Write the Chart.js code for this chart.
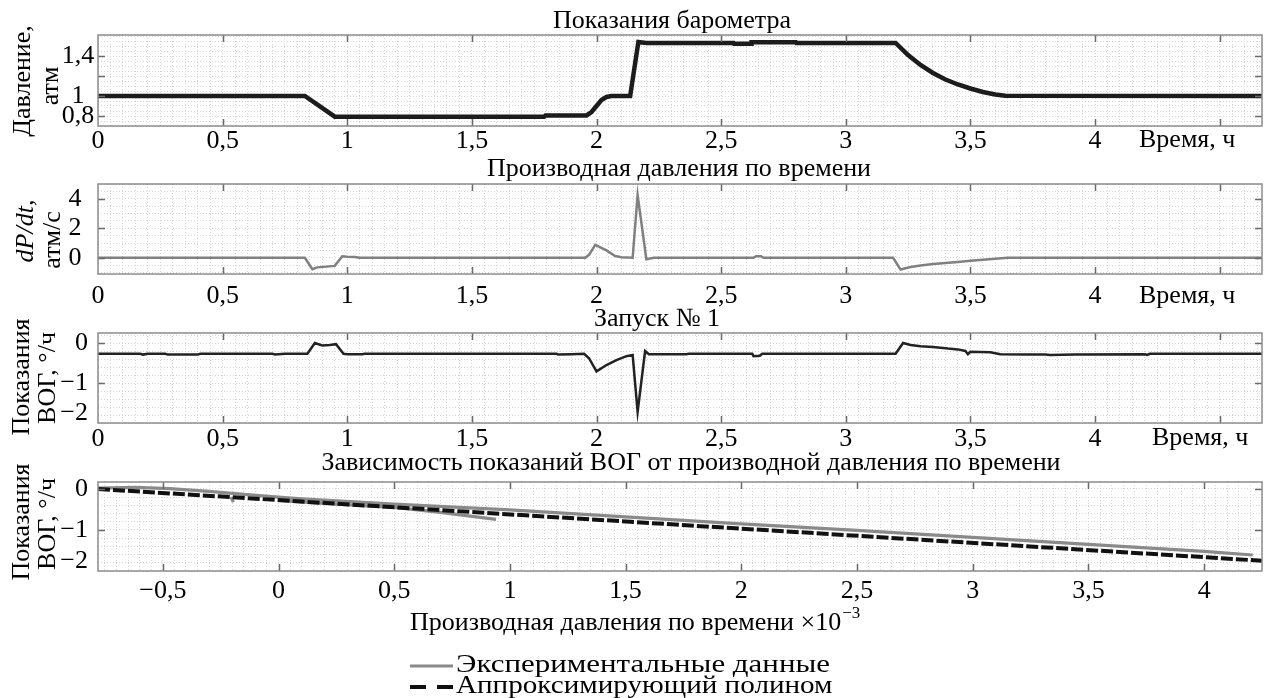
<!DOCTYPE html>
<html><head><meta charset="utf-8">
<script src="https://cdn.jsdelivr.net/npm/chart.js@4/dist/chart.umd.min.js"></script>
<style>
html,body{margin:0;padding:0;background:#fff;}
#wrap{position:relative;width:1268px;height:698px;overflow:hidden;background:#fff;}
canvas{position:absolute;left:0;top:0;}
</style></head><body>
<div id="wrap">
<canvas id="c1" width="1268" height="698"></canvas>
<canvas id="c2" width="1268" height="698"></canvas>
<canvas id="c3" width="1268" height="698"></canvas>
<canvas id="c4" width="1268" height="698"></canvas>
</div>
<script>
// ---------- DATA ----------
const baroTime     = [0, 0.83, 0.95, 1.79, 1.795, 1.96, 1.98, 2.0, 2.02, 2.04, 2.06, 2.135, 2.168, 2.2, 2.55, 2.552, 2.62, 2.622, 2.8, 2.802, 3.2, 3.25, 3.3, 3.35, 3.4, 3.45, 3.5, 3.55, 3.6, 3.64, 4.67];
const baroPressure = [1.0, 1.0, 0.793, 0.793, 0.806, 0.806, 0.84, 0.9, 0.96, 0.99, 1.0, 1.0, 1.54, 1.53, 1.53, 1.522, 1.522, 1.537, 1.537, 1.53, 1.53, 1.41, 1.31, 1.23, 1.165, 1.115, 1.075, 1.04, 1.015, 1.002, 1.0];

const dpdtTime  = [0, 0.83, 0.86, 0.88, 0.95, 0.98, 1.0, 1.03, 1.05, 1.955, 1.97, 1.995, 2.04, 2.075, 2.1, 2.145, 2.165, 2.2, 2.23, 2.63, 2.64, 2.66, 2.67, 3.19, 3.22, 3.26, 3.3, 3.35, 3.4, 3.45, 3.5, 3.55, 3.6, 3.65, 4.67];
const dpdtValue = [0, 0, -0.78, -0.65, -0.55, 0.1, 0.07, 0.05, 0, 0, 0.2, 0.88, 0.5, 0.12, 0.03, 0.0, 4.25, -0.1, 0, 0, 0.1, 0.1, 0, 0, -0.8, -0.62, -0.52, -0.43, -0.35, -0.28, -0.21, -0.14, -0.07, 0, 0];

const gyroTime  = [0, 0.17, 0.18, 0.2, 0.27, 0.28, 0.4, 0.41, 0.7, 0.71, 0.75, 0.84, 0.87, 0.9, 0.93, 0.955, 0.985, 1.0, 1.06, 1.07, 1.84, 1.845, 1.9, 1.95, 1.97, 2.0, 2.04, 2.08, 2.12, 2.145, 2.165, 2.195, 2.21, 2.36, 2.37, 2.625, 2.63, 2.655, 2.665, 3.2, 3.23, 3.26, 3.3, 3.35, 3.41, 3.45, 3.48, 3.49, 3.5, 3.58, 3.62, 3.73, 3.8, 3.82, 3.92, 4.2, 4.21, 4.22, 4.67];
const gyroValue = [-0.27, -0.27, -0.29, -0.27, -0.27, -0.29, -0.29, -0.27, -0.27, -0.285, -0.27, -0.27, 0.0, -0.06, -0.05, -0.03, -0.27, -0.28, -0.28, -0.27, -0.27, -0.29, -0.28, -0.27, -0.38, -0.71, -0.55, -0.43, -0.33, -0.3, -1.72, -0.2, -0.28, -0.28, -0.27, -0.27, -0.33, -0.32, -0.27, -0.27, 0.0, -0.05, -0.08, -0.1, -0.14, -0.16, -0.2, -0.28, -0.22, -0.23, -0.28, -0.29, -0.29, -0.3, -0.29, -0.28, -0.3, -0.27, -0.27];

const expUpperX = [-0.78, -0.62, -0.47, -0.3, -0.15, 0.0, 0.1, 0.5, 1.0, 1.5, 2.0, 2.5, 3.0, 3.5, 4.0, 4.21];
const expUpperY = [0.02, 0.04, 0.01, -0.06, -0.13, -0.2, -0.24, -0.37, -0.51, -0.68, -0.85, -1.01, -1.18, -1.35, -1.52, -1.61];
const expLowerX = [0.0, 0.25, 0.5, 0.7, 0.94];
const expLowerY = [-0.28, -0.37, -0.45, -0.57, -0.74];
const expBlobX  = [-0.205, -0.195];
const expBlobY  = [-0.2, -0.32];
const fitX = [-0.78, 4.25];
const fitY = [0.0, -1.75];

// tick labels
const timeTicks      = [0, 0.5, 1, 1.5, 2, 2.5, 3, 3.5, 4];
const timeTickLabels = ['0', '0,5', '1', '1,5', '2', '2,5', '3', '3,5', '4'];
const timeMajor      = [0, 0.5, 1, 1.5, 2, 2.5, 3, 3.5, 4, 4.5];
const dpTicks        = [-0.5, 0, 0.5, 1, 1.5, 2, 2.5, 3, 3.5, 4];
const dpTickLabels   = ['\u22120,5', '0', '0,5', '1', '1,5', '2', '2,5', '3', '3,5', '4'];
const baroYTicks = [0.8, 1, 1.4],  baroYLabels = ['0,8', '1', '1,4'], baroYMajor = [0.8, 1, 1.2, 1.4];
const dpdtYTicks = [0, 2, 4],      dpdtYLabels = ['0', '2', '4'];
const gyroYTicks = [0, -1, -2],    gyroYLabels = ['0', '\u22121', '\u22122'];

// ---------- HELPERS ----------
const FONT = '"Liberation Serif","Times New Roman",serif';
const FS = 26;
const GRID = '#d6d6d6';
const pts = (xs, ys) => xs.map((x, i) => ({x: x, y: ys[i]}));
function stepsBetween(min, max, step) {
  const out = [];
  for (let k = Math.ceil(min / step - 1e-9); k * step <= max + 1e-9; k++) out.push(Math.round(k * step * 1e6) / 1e6);
  return out;
}
function labelFor(v, vals, labels) {
  const i = vals.findIndex(t => Math.abs(t - v) < 1e-6);
  return i >= 0 ? labels[i] : '';
}
function drawText(ctx, t) {
  ctx.save();
  ctx.font = (t.italic ? 'italic ' : '') + (t.size || FS) + 'px ' + FONT;
  ctx.fillStyle = '#000';
  ctx.textAlign = t.align || 'center';
  ctx.textBaseline = 'middle';
  ctx.translate(t.x, t.y);
  if (t.rot) ctx.rotate(-Math.PI / 2);
  if (t.sx) ctx.scale(t.sx, 1);
  ctx.fillText(t.text, 0, 0);
  ctx.restore();
}
function deco(p) {
  return {
    id: 'deco' + p.id,
    afterDatasetsDraw(chart) {
      const ctx = chart.ctx, a = chart.chartArea, xs = chart.scales.x, ys = chart.scales.y;
      ctx.save();
      ctx.strokeStyle = '#6a6a6a'; ctx.lineWidth = 1.5;
      ctx.beginPath();
      p.xMajor.forEach(v => {
        const px = Math.round(xs.getPixelForValue(v)) + 0.5;
        if (px <= a.left + 1 || px >= a.right - 1) return;
        ctx.moveTo(px, a.top); ctx.lineTo(px, a.top + 7);
        ctx.moveTo(px, a.bottom); ctx.lineTo(px, a.bottom - 7);
      });
      p.yMajor.forEach(v => {
        const py = Math.round(ys.getPixelForValue(v)) + 0.5;
        if (py <= a.top + 1 || py >= a.bottom - 1) return;
        ctx.moveTo(a.left, py); ctx.lineTo(a.left + 7, py);
        ctx.moveTo(a.right, py); ctx.lineTo(a.right - 7, py);
      });
      ctx.stroke();
      ctx.strokeStyle = '#8c8c8c'; ctx.lineWidth = 1.5;
      ctx.strokeRect(a.left, a.top, a.right - a.left, a.bottom - a.top);
      ctx.restore();
    },
    afterDraw(chart) {
      const ctx = chart.ctx, a = chart.chartArea, ys = chart.scales.y;
      p.yTickVals.forEach((v, i) => {
        let py = ys.getPixelForValue(v);
        py = Math.min(py, a.bottom - 10);
        drawText(ctx, {text: p.yTickLabels[i], x: p.yLabX, y: py, align: p.yLabAlign});
      });
      p.texts.forEach(t => drawText(ctx, t));
      if (p.extra) p.extra(ctx);
    }
  };
}
function makeChart(p) {
  new Chart(document.getElementById(p.id), {
    type: 'scatter',
    data: { datasets: p.datasets },
    options: {
      responsive: false, animation: false, devicePixelRatio: 1,
      layout: { padding: { left: 0, right: 1268 - p.right, top: p.top, bottom: 698 - p.bottom - 40 } },
      plugins: { legend: {display: false}, tooltip: {enabled: false}, title: {display: false} },
      elements: { point: { radius: 0, hoverRadius: 0 }, line: { tension: 0 } },
      scales: {
        x: {
          type: 'linear', min: p.xMin, max: p.xMax,
          afterFit: s => { s.height = 40; },
          afterBuildTicks: s => { s.ticks = stepsBetween(p.xMin, p.xMax, p.xMinor).map(v => ({value: v})); },
          grid: { color: GRID, lineWidth: 1, drawTicks: false },
          border: { display: false, dash: [1, 2] },
          ticks: { autoSkip: false, maxRotation: 0, minRotation: 0, padding: p.xPad, color: '#000',
                   font: {family: FONT, size: FS},
                   callback: v => labelFor(v, p.xTickVals, p.xTickLabels) }
        },
        y: {
          type: 'linear', min: p.yMin, max: p.yMax,
          afterFit: s => { s.width = p.left; },
          afterBuildTicks: s => { s.ticks = stepsBetween(p.yMin, p.yMax, p.yMinor).map(v => ({value: v})); },
          grid: { color: GRID, lineWidth: 1, drawTicks: false },
          border: { display: false, dash: [1, 2] },
          ticks: { display: false }
        }
      }
    },
    plugins: [deco(p)]
  });
}
const line = (data, color, width, extra) => Object.assign({ data: data, showLine: true, borderColor: color, backgroundColor: color, borderWidth: width, pointRadius: 0, fill: false }, extra || {});

// ---------- PANEL 1 ----------
makeChart({
  id: 'c1', left: 98, right: 1262, top: 35, bottom: 126,
  xMin: 0, xMax: 4.67, xMinor: 0.05, xMajor: timeMajor, xTickVals: timeTicks, xTickLabels: timeTickLabels, xPad: 0,
  yMin: 0.7, yMax: 1.61, yMinor: 0.05, yMajor: baroYMajor, yTickVals: baroYTicks, yTickLabels: baroYLabels, yLabX: 78, yLabAlign: 'center',
  datasets: [ line(pts(baroTime, baroPressure), '#1c1c1c', 4.5) ],
  texts: [
    {text: 'Показания барометра', x: 672, y: 21},
    {text: 'Давление,', x: 23, y: 81, rot: true},
    {text: 'атм', x: 51, y: 86, rot: true},
    {text: 'Время, ч', x: 1139, y: 140, align: 'left'}
  ]
});
// ---------- PANEL 2 ----------
makeChart({
  id: 'c2', left: 98, right: 1262, top: 184, bottom: 274,
  xMin: 0, xMax: 4.67, xMinor: 0.05, xMajor: timeMajor, xTickVals: timeTicks, xTickLabels: timeTickLabels, xPad: 7,
  yMin: -1.1, yMax: 5, yMinor: 0.5, yMajor: dpdtYTicks, yTickVals: dpdtYTicks, yTickLabels: dpdtYLabels, yLabX: 75, yLabAlign: 'center',
  datasets: [ line(pts(dpdtTime, dpdtValue), '#808080', 2.5) ],
  texts: [
    {text: 'Производная давления по времени', x: 679, y: 169},
    {text: 'dP/dt,', x: 26, y: 231, rot: true, italic: true},
    {text: 'атм/с', x: 53, y: 240, rot: true},
    {text: 'Время, ч', x: 1139, y: 296, align: 'left'}
  ]
});
// ---------- PANEL 3 ----------
makeChart({
  id: 'c3', left: 98, right: 1262, top: 333, bottom: 423,
  xMin: 0, xMax: 4.67, xMinor: 0.05, xMajor: timeMajor, xTickVals: timeTicks, xTickLabels: timeTickLabels, xPad: 1,
  yMin: -2, yMax: 0.25, yMinor: 0.2, yMajor: gyroYTicks, yTickVals: gyroYTicks, yTickLabels: gyroYLabels, yLabX: 88, yLabAlign: 'right',
  datasets: [ line(pts(gyroTime, gyroValue), '#222222', 2.5) ],
  texts: [
    {text: 'Запуск № 1', x: 657, y: 319},
    {text: 'Показания', x: 22, y: 377, rot: true},
    {text: 'ВОГ, °/ч', x: 48, y: 378, rot: true},
    {text: 'Время, ч', x: 1152, y: 438, align: 'left'}
  ]
});
// ---------- PANEL 4 ----------
makeChart({
  id: 'c4', left: 98, right: 1262, top: 482, bottom: 571,
  xMin: -0.78, xMax: 4.25, xMinor: 0.05, xMajor: dpTicks, xTickVals: dpTicks, xTickLabels: dpTickLabels, xPad: 5,
  yMin: -2, yMax: 0.17, yMinor: 0.2, yMajor: gyroYTicks, yTickVals: gyroYTicks, yTickLabels: gyroYLabels, yLabX: 88, yLabAlign: 'right',
  datasets: [
    line(pts(fitX, fitY), '#111111', 4, { borderDash: [12, 3], order: 0, label: 'Аппроксимирующий полином' }),
    line(pts(expUpperX, expUpperY), '#8a8a8a', 3.2, { order: 1, label: 'Экспериментальные данные' }),
    line(pts(expLowerX, expLowerY), '#8a8a8a', 3.2, { order: 1 }),
    line(pts(expBlobX, expBlobY), '#8a8a8a', 3.2, { order: 1 })
  ],
  texts: [
    {text: 'Зависимость показаний ВОГ от производной давления по времени', x: 691, y: 463},
    {text: 'Показания', x: 22, y: 522, rot: true},
    {text: 'ВОГ, °/ч', x: 48, y: 524, rot: true},
    {text: 'Экспериментальные данные', x: 456, y: 665, align: 'left', sx: 1.19},
    {text: 'Аппроксимирующий полином', x: 456, y: 686, align: 'left', sx: 1.12}
  ],
  extra: ctx => {
    ctx.save();
    ctx.font = FS + 'px ' + FONT;
    ctx.fillStyle = '#000'; ctx.textBaseline = 'middle'; ctx.textAlign = 'left';
    const main = 'Производная давления по времени ×10';
    ctx.fillText(main, 410, 623);
    const w = ctx.measureText(main).width;
    ctx.font = '17px ' + FONT;
    ctx.fillText('\u22123', 410 + w + 1, 614);
    ctx.strokeStyle = '#8a8a8a'; ctx.lineWidth = 3.2;
    ctx.beginPath(); ctx.moveTo(410, 666); ctx.lineTo(453, 666); ctx.stroke();
    ctx.strokeStyle = '#111'; ctx.lineWidth = 4; ctx.setLineDash([16, 11]);
    ctx.beginPath(); ctx.moveTo(410, 687); ctx.lineTo(454, 687); ctx.stroke();
    ctx.restore();
  }
});
</script>
</body></html>
